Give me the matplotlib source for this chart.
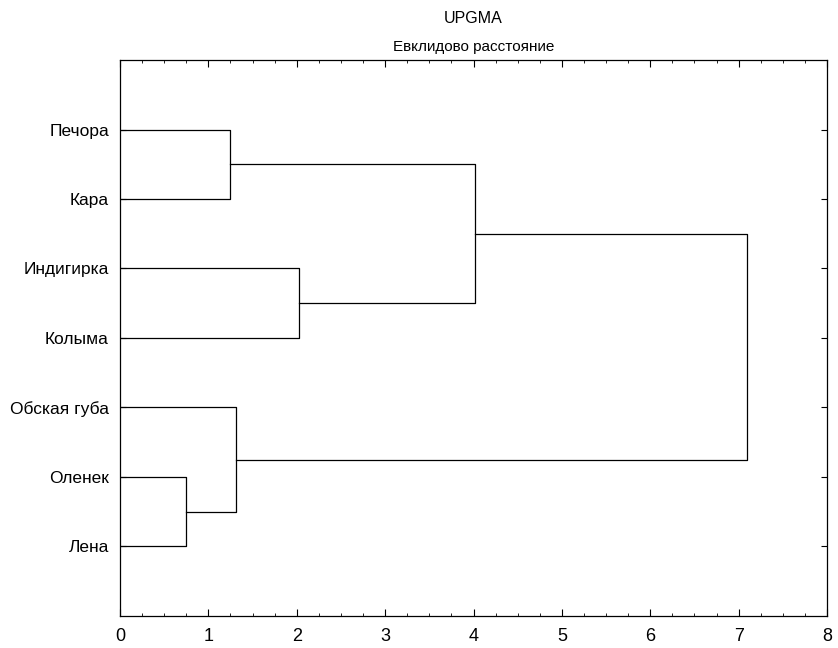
import matplotlib.pyplot as plt
from matplotlib.ticker import MultipleLocator

plt.rcParams["font.family"] = ["Liberation Sans", "DejaVu Sans"]

# leaves, top to bottom
leaves = ["Печора", "Кара", "Индигирка", "Колыма", "Обская губа", "Оленек", "Лена"]

# merges: (left node, right node, distance); nodes >= len(leaves) are earlier merges
merges = [
    ("Оленек", "Лена", 0.75),
    ("Печора", "Кара", 1.24),
    ("Обская губа", 7, 1.31),
    ("Индигирка", "Колыма", 2.02),
    (8, 10, 4.02),
    (11, 9, 7.10),
]

fig = plt.figure(figsize=(8.38, 6.48), dpi=100)
ax = fig.add_axes([0.1432, 0.0494, 0.8437, 0.858])

pos = {name: i + 1 for i, name in enumerate(leaves)}
height = {name: 0.0 for name in leaves}
node_id = len(leaves)
for a, b, d in merges:
    ya, yb = pos[a], pos[b]
    ax.plot([height[a], d, d, height[b]], [ya, ya, yb, yb], color="black", lw=0.9)
    pos[node_id] = (ya + yb) / 2
    height[node_id] = d
    node_id += 1

ax.set_xlim(0, 8)
ax.set_ylim(8, 0)
ax.set_yticks(range(1, len(leaves) + 1))
ax.set_yticklabels(leaves, fontsize=12.5)
ax.xaxis.set_major_locator(MultipleLocator(1))
ax.xaxis.set_minor_locator(MultipleLocator(0.25))
ax.tick_params(axis="both", which="both", direction="in", top=True, right=True)
ax.tick_params(axis="x", which="major", length=5, labelsize=13, pad=9)
ax.tick_params(axis="x", which="minor", length=2.5)
ax.tick_params(axis="y", length=4, pad=8)
for s in ax.spines.values():
    s.set_linewidth(0.9)

fig.text(0.565, 0.971, "UPGMA", ha="center", va="center", fontsize=11.5)
fig.text(0.565, 0.927, "Евклидово расстояние", ha="center", va="center", fontsize=11)

fig.savefig("out.png", dpi=100)
